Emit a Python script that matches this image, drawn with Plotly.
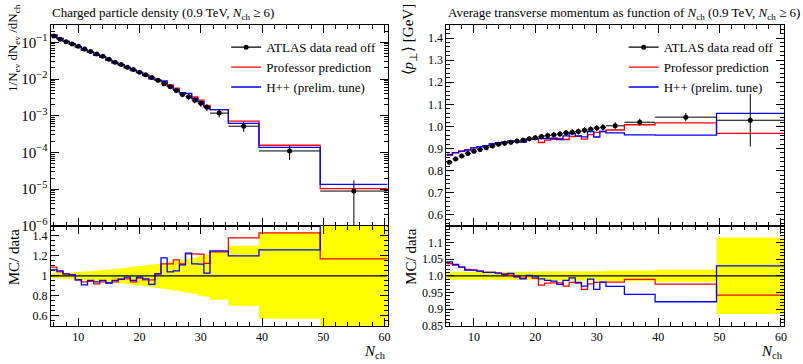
import plotly.graph_objects as go

W, H = 803, 364

# N_ch bin edges: unit bins up to 31, then four wide bins
edges = [5.5, 6.5, 7.5, 8.5, 9.5, 10.5, 11.5, 12.5, 13.5, 14.5, 15.5, 16.5,
         17.5, 18.5, 19.5, 20.5, 21.5, 22.5, 23.5, 24.5, 25.5, 26.5, 27.5,
         28.5, 29.5, 30.5, 31.5, 34.5, 39.5, 49.5, 60.5]

# --- charged particle multiplicity: 1/N_ev dN_ev/dN_ch -----------------------
dens_data = [0.148, 0.122, 0.104, 0.090, 0.078, 0.066, 0.056, 0.048, 0.0415,
             0.0346, 0.0288, 0.0250, 0.0209, 0.0181, 0.0153, 0.0130, 0.0111,
             0.0092, 0.0075, 0.0062, 0.0049, 0.0038, 0.0033, 0.00266, 0.00218,
             0.0017, 0.00118, 5.2e-4, 1.1e-4, 8.9e-6]
dens_relerr = [0.025, 0.028, 0.031, 0.034, 0.037, 0.042, 0.047, 0.052, 0.057,
               0.062, 0.069, 0.076, 0.083, 0.090, 0.098, 0.106, 0.114, 0.122,
               0.130, 0.140, 0.150, 0.160, 0.170, 0.180, 0.200, 0.210, 0.240,
               0.300, 0.430, 0.950]
dens_ratio_prof = [1.086, 1.04, 1.02, 1.01, 0.96, 0.94, 0.945, 0.92, 0.94, 0.93,
                   0.94, 0.97, 0.97, 0.94, 0.977, 0.96, 0.96, 1.02, 1.12, 1.12,
                   1.16, 1.12, 1.22, 1.22, 1.217, 1.125, 1.24, 1.38, 1.43, 1.17]
dens_ratio_hpp = [1.06, 1.05, 1.02, 1.01, 0.96, 0.91, 0.954, 0.94, 0.954, 0.928,
                  0.955, 0.965, 0.987, 0.955, 0.987, 0.97, 0.915, 1.02, 1.18,
                  1.04, 1.05, 1.11, 1.227, 1.12, 1.118, 1.027, 1.25, 1.20, 1.26,
                  1.53]

# --- average transverse momentum vs N_ch --------------------------------------
pt_data = [0.838, 0.853, 0.866, 0.878, 0.888, 0.896, 0.904, 0.912, 0.919, 0.924,
           0.928, 0.934, 0.938, 0.944, 0.949, 0.954, 0.959, 0.962, 0.966, 0.971,
           0.974, 0.977, 0.983, 0.987, 0.993, 0.996, 1.003, 1.019, 1.042, 1.028]
pt_relerr = [0.012, 0.012, 0.012, 0.012, 0.012, 0.012, 0.012, 0.012, 0.012,
             0.012, 0.012, 0.012, 0.012, 0.012, 0.012, 0.014, 0.014, 0.014,
             0.014, 0.014, 0.014, 0.014, 0.014, 0.014, 0.014, 0.014, 0.016,
             0.016, 0.018, 0.115]
pt_ratio_prof = [1.037, 1.032, 1.026, 1.019, 1.017, 1.014, 1.01, 1.01, 1.008,
                 1.005, 1.002, 0.996, 0.993, 1.0, 0.992, 0.972, 0.978, 0.979,
                 0.979, 0.969, 0.98, 0.978, 0.959, 0.976, 0.98, 0.981, 0.981,
                 0.989, 0.975, 0.942]
pt_ratio_hpp = [1.042, 1.034, 1.026, 1.017, 1.017, 1.014, 1.01, 1.01, 1.008,
                1.005, 1.007, 0.998, 0.991, 1.001, 0.997, 0.991, 0.986, 0.984,
                0.974, 0.986, 0.994, 0.98, 0.969, 0.99, 0.959, 0.981, 0.968,
                0.944, 0.922, 1.030]

legend_names = ["ATLAS data read off", "Professor prediction", "H++ (prelim. tune)"]
RED, BLUE = "#ff0000", "#0000ff"
SERIF = "Liberation Serif, Times New Roman, serif"

centers = [(a + b) / 2 for a, b in zip(edges[:-1], edges[1:])]
halfw = [(b - a) / 2 for a, b in zip(edges[:-1], edges[1:])]


def steps(vals):
    """Histogram outline: values repeated at the closing edge for 'hv' steps."""
    return list(edges), list(vals) + [vals[-1]]


def px_x(p):
    return p / W


def px_y(p):
    return 1 - p / H


fig = go.Figure()


def add_panel(xa_main, ya_main, xa_rat, ya_rat, data, relerr, r_prof, r_hpp, legend):
    err = [v * e for v, e in zip(data, relerr)]
    prof = [v * r for v, r in zip(data, r_prof)]
    hpp = [v * r for v, r in zip(data, r_hpp)]

    # main panel: MC histograms and data points
    for vals, col in ((prof, RED), (hpp, BLUE)):
        x, y = steps(vals)
        fig.add_trace(go.Scatter(x=x, y=y, mode="lines", line=dict(color=col, width=1.3, shape="hv"),
                                 xaxis=xa_main, yaxis=ya_main, showlegend=False, hoverinfo="skip"))
    fig.add_trace(go.Scatter(x=centers, y=data, mode="markers",
                             marker=dict(color="black", size=5),
                             error_y=dict(type="data", array=err, color="black", thickness=1, width=0),
                             error_x=dict(type="data", array=halfw, color="black", thickness=1, width=0),
                             xaxis=xa_main, yaxis=ya_main, showlegend=False))
    # legend entries
    for name, col, mode in zip(legend_names, ["black", RED, BLUE],
                               ["lines+markers", "lines", "lines"]):
        fig.add_trace(go.Scatter(x=[None], y=[None], mode=mode, name=name,
                                 line=dict(color=col, width=1.3), marker=dict(color=col, size=5),
                                 xaxis=xa_main, yaxis=ya_main, legend=legend))

    # ratio panel: data uncertainty band, unity line, MC/data
    x, up = steps([1 + e for e in relerr])
    _, lo = steps([1 - e for e in relerr])
    fig.add_trace(go.Scatter(x=x, y=up, mode="lines", line=dict(width=0, shape="hv"),
                             xaxis=xa_rat, yaxis=ya_rat, showlegend=False, hoverinfo="skip"))
    fig.add_trace(go.Scatter(x=x, y=lo, mode="lines", line=dict(width=0, shape="hv"),
                             fill="tonexty", fillcolor="#ffff00",
                             xaxis=xa_rat, yaxis=ya_rat, showlegend=False, hoverinfo="skip"))
    x, one = steps([d / d for d in data])
    fig.add_trace(go.Scatter(x=x, y=one, mode="lines", line=dict(color="black", width=1.2, shape="hv"),
                             xaxis=xa_rat, yaxis=ya_rat, showlegend=False, hoverinfo="skip"))
    for vals, col in ((r_prof, RED), (r_hpp, BLUE)):
        x, y = steps(vals)
        fig.add_trace(go.Scatter(x=x, y=y, mode="lines", line=dict(color=col, width=1.3, shape="hv"),
                                 xaxis=xa_rat, yaxis=ya_rat, showlegend=False, hoverinfo="skip"))


add_panel("x", "y", "x2", "y2", dens_data, dens_relerr, dens_ratio_prof, dens_ratio_hpp, "legend")
add_panel("x3", "y3", "x4", "y4", pt_data, pt_relerr, pt_ratio_prof, pt_ratio_hpp, "legend2")

TICKFONT = dict(family=SERIF, size=12, color="black")
LX = [px_x(51), px_x(389)]
RX = [px_x(448), px_x(787)]
MAIN_Y = [px_y(231), px_y(26)]
RAT_Y = [px_y(333), px_y(231)]

frame = dict(showline=True, linecolor="black", linewidth=1, mirror="allticks",
             ticks="inside", tickcolor="black", tickwidth=1, ticklen=8,
             showgrid=False, zeroline=False, tickfont=TICKFONT)


def xax(domain, anchor, labels):
    return dict(frame, domain=domain, anchor=anchor, range=[edges[0], edges[-1]],
                tick0=0, dtick=10, showticklabels=labels,
                minor=dict(ticks="inside", ticklen=4, tick0=0, dtick=2, tickcolor="black"))


def yax(domain, anchor, **kw):
    return dict(frame, domain=domain, anchor=anchor, **kw)


LEGFONT = dict(family=SERIF, size=13, color="black")
fig.update_layout(
    width=W, height=H, margin=dict(l=0, r=0, t=0, b=0),
    paper_bgcolor="white", plot_bgcolor="white",
    font=dict(family=SERIF, size=12, color="black"),
    xaxis=xax(LX, "y", False),
    xaxis2=xax(LX, "y2", True),
    xaxis3=xax(RX, "y3", False),
    xaxis4=xax(RX, "y4", True),
    yaxis=yax(MAIN_Y, "x", type="log", range=[-6, -0.54], dtick=1, exponentformat="power",
              minor=dict(ticks="inside", ticklen=4, dtick="D1", tickcolor="black")),
    yaxis2=yax(RAT_Y, "x2", range=[0.5, 1.5], tick0=0, dtick=0.2,
               minor=dict(ticks="inside", ticklen=4, tick0=0, dtick=0.05, tickcolor="black")),
    yaxis3=yax(MAIN_Y, "x3", range=[0.55, 1.457], tick0=0, dtick=0.1, tickformat=".1f",
               minor=dict(ticks="inside", ticklen=4, tick0=0, dtick=0.02, tickcolor="black")),
    yaxis4=yax(RAT_Y, "x4", range=[0.85, 1.15], tickmode="array",
               tickvals=[0.85, 0.9, 0.95, 1.0, 1.05, 1.1],
               ticktext=["0.85", "0.9", "0.95", "1.0", "1.05", "1.1"],
               minor=dict(ticks="inside", ticklen=4, tick0=0, dtick=0.01, tickcolor="black")),
    legend=dict(x=px_x(227), xanchor="left", y=px_y(33), yanchor="top", traceorder="normal",
                bgcolor="rgba(0,0,0,0)", font=LEGFONT),
    legend2=dict(x=px_x(626), xanchor="left", y=px_y(33), yanchor="top", traceorder="normal",
                 bgcolor="rgba(0,0,0,0)", font=LEGFONT),
    showlegend=True,
)

NCH = "<i>N</i><sub>ch</sub>"
ann_font = dict(family=SERIF, size=13, color="black")
ytitle_font = dict(family=SERIF, size=15, color="black")
annotations = [
    dict(text=f"Charged particle density (0.9 TeV, {NCH} ≥ 6)",
         x=px_x(50), y=px_y(14), xanchor="left", yanchor="middle", font=ann_font),
    dict(text=f"Average transverse momentum as function of {NCH} (0.9 TeV, {NCH} ≥ 6)",
         x=px_x(448), y=px_y(14), xanchor="left", yanchor="middle", font=ann_font),
    dict(text="1/N<sub>ev</sub> dN<sub>ev</sub> /dN<sub>ch</sub>",
         x=px_x(14), y=px_y(2), xanchor="center", yanchor="top", textangle=-90,
         font=dict(family=SERIF, size=13, color="black")),
    dict(text="⟨<i>p</i><sub>⊥</sub>⟩ [GeV]",
         x=px_x(411), y=px_y(1), xanchor="center", yanchor="top", textangle=-90, font=ytitle_font),
    dict(text="MC/ data", x=px_x(14), y=px_y(231), xanchor="center", yanchor="top",
         textangle=-90, font=ytitle_font),
    dict(text="MC/ data", x=px_x(413), y=px_y(231), xanchor="center", yanchor="top",
         textangle=-90, font=ytitle_font),
    dict(text=NCH, x=px_x(389), y=px_y(360), xanchor="right", yanchor="middle", font=ytitle_font),
    dict(text=NCH, x=px_x(788), y=px_y(360), xanchor="right", yanchor="middle", font=ytitle_font),
]
for a in annotations:
    a.update(xref="paper", yref="paper", showarrow=False)
fig.update_layout(annotations=annotations)

fig.write_html("out.html")
